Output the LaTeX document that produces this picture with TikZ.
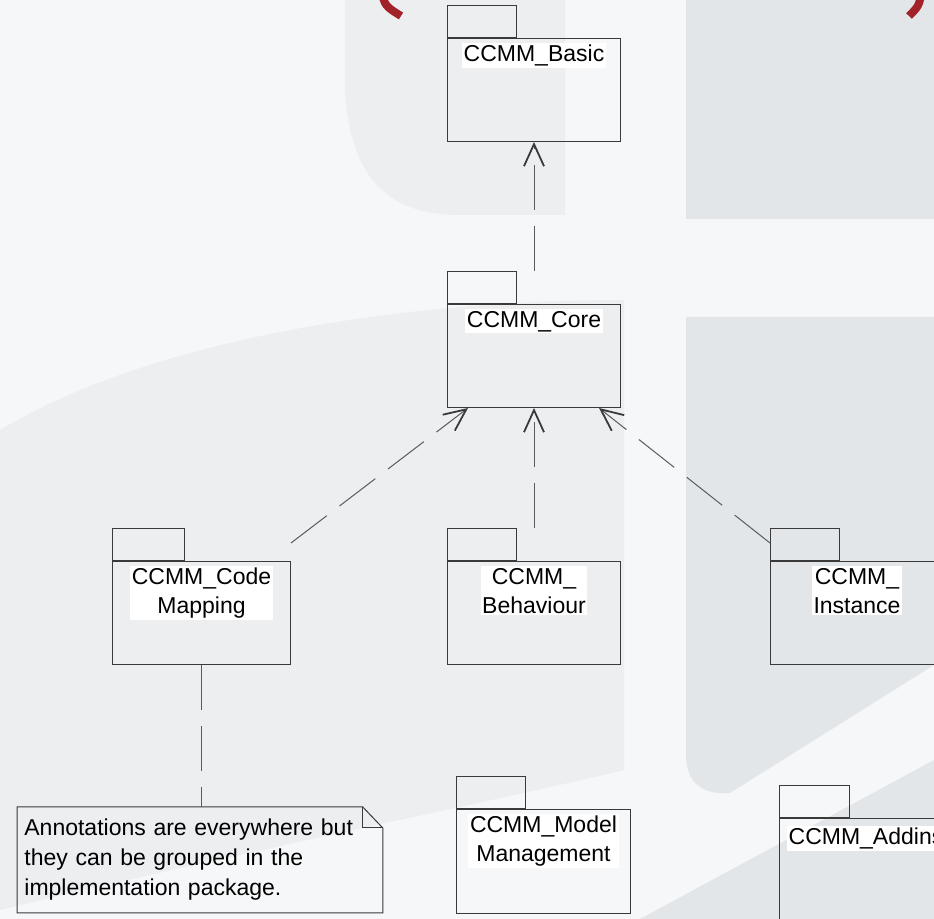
\documentclass[tikz,border=0pt]{standalone}
\usepackage{fontspec}
\setmainfont{Liberation Sans}
\usetikzlibrary{arrows.meta}
\definecolor{boxcol}{HTML}{3A3A3A}
\definecolor{depcol}{HTML}{5A5A5A}
\definecolor{parcol}{HTML}{A3222A}
\definecolor{bgbase}{HTML}{F6F7F8}
\definecolor{bggrey}{HTML}{E3E6E9}
\definecolor{bglight}{HTML}{EDEEF0}
\tikzset{
  pkg/.style={draw=boxcol, line width=0.5pt, minimum width=86.5pt, minimum height=51.5pt, inner sep=0pt, anchor=north west},
  pkgtab/.style={draw=boxcol, line width=0.5pt, minimum width=34.5pt, minimum height=16pt, inner sep=0pt, anchor=south west},
  pkgname/.style={fill=white, inner sep=0.8pt, align=center, anchor=north, font=\fontsize{11.5}{14.5}\selectfont},
  notebox/.style={anchor=north west, minimum width=182.5pt, minimum height=52.5pt, text width=175.5pt, inner xsep=3.5pt, inner ysep=0pt, align=left, font=\fontsize{11.5}{15}\selectfont},
  dep/.style={draw=depcol, line width=0.5pt, dash pattern=on 22.5pt off 8pt, -{Straight Barb[length=11pt, width=10pt, line width=0.9pt, color=boxcol]}},
}
\begin{document}
\begin{tikzpicture}[x=0.5pt, y=-0.5pt]
\path[use as bounding box] (0,0) rectangle (934,919);
\clip (0,0) rectangle (934,919);
\fill[bgbase] (0,0) rectangle (934,919);
\fill[bglight] (345,0) -- (345,90) .. controls (350,180) and (390,215) .. (460,215) -- (565,215) -- (565,0) -- cycle;
\fill[bglight] (0,430) .. controls (150,340) and (400,300) .. (624,300) -- (624,770) .. controls (500,800) and (250,850) .. (0,910) -- cycle;
\fill[bggrey] (686,0) rectangle (934,219);
\fill[bggrey] (686,317) -- (686,755) .. controls (686,785) and (705,795) .. (730,793) -- (934,665) -- (934,317) -- cycle;
\fill[bggrey] (640,919) -- (934,760) -- (934,919) -- cycle;
\draw[parcol, line width=4pt] (381,-10) .. controls (385,6) .. (401,16);
\draw[parcol, line width=4pt] (922,-10) .. controls (919,6) .. (909,16);

\node[pkg] (basic) at (447,38) {};
\node[pkgtab] (basictab) at (basic.north west) {};
\node[pkgname] (basicname) at ([yshift=-2.5pt]basic.north) {CCMM\_Basic};

\node[pkg] (core) at (447,304) {};
\node[pkgtab] (coretab) at (core.north west) {};
\node[pkgname] (corename) at ([yshift=-2.5pt]core.north) {CCMM\_Core};

\node[pkg, minimum width=89pt] (codemap) at (112,561) {};
\node[pkgtab, minimum width=36pt] (codemaptab) at (codemap.north west) {};
\node[pkgname] (codemapname) at ([yshift=-2.5pt]codemap.north) {CCMM\_Code\\Mapping};

\node[pkg] (behaviour) at (447,561) {};
\node[pkgtab] (behaviourtab) at (behaviour.north west) {};
\node[pkgname] (behaviourname) at ([yshift=-2.5pt]behaviour.north) {CCMM\_\\Behaviour};

\node[pkg] (instance) at (770,561) {};
\node[pkgtab] (instancetab) at (instance.north west) {};
\node[pkgname] (instancename) at ([yshift=-2.5pt]instance.north) {CCMM\_\\Instance};

\node[pkg, minimum width=87pt, minimum height=52pt] (model) at (456,809) {};
\node[pkgtab] (modeltab) at (model.north west) {};
\node[pkgname] (modelname) at ([yshift=-2.5pt]model.north) {CCMM\_Model\\Management};

\node[pkg] (addins) at (779,818) {};
\node[pkgtab, minimum width=35pt] (addinstab) at (addins.north west) {};
\node[pkgname] (addinsname) at ([yshift=-4pt]addins.north) {CCMM\_Addins};

\node[notebox] (note) at (17,807) {Annotations are everywhere but\\they can be grouped in the\\implementation package.};
\draw[boxcol, line width=0.5pt] (note.north west) -- ([xshift=-10pt]note.north east) -- ([yshift=-10.5pt]note.north east) -- (note.south east) -- (note.south west) -- cycle;
\draw[boxcol, line width=0.5pt] ([xshift=-10pt]note.north east) |- ([yshift=-10.5pt]note.north east);

\draw[dep] (core.north |- coretab.north) -- (basic.south);
\draw[dep] ([yshift=9pt]codemap.north east) -- ([xshift=-33pt]core.south);
\draw[dep] (behaviour.north |- behaviourtab.north) -- (core.south);
\draw[dep] ([yshift=9pt]instance.north west) -- ([xshift=32.5pt]core.south);
\draw[dep, -] (codemap.south) -- (codemap.south |- note.north);
\end{tikzpicture}
\end{document}
